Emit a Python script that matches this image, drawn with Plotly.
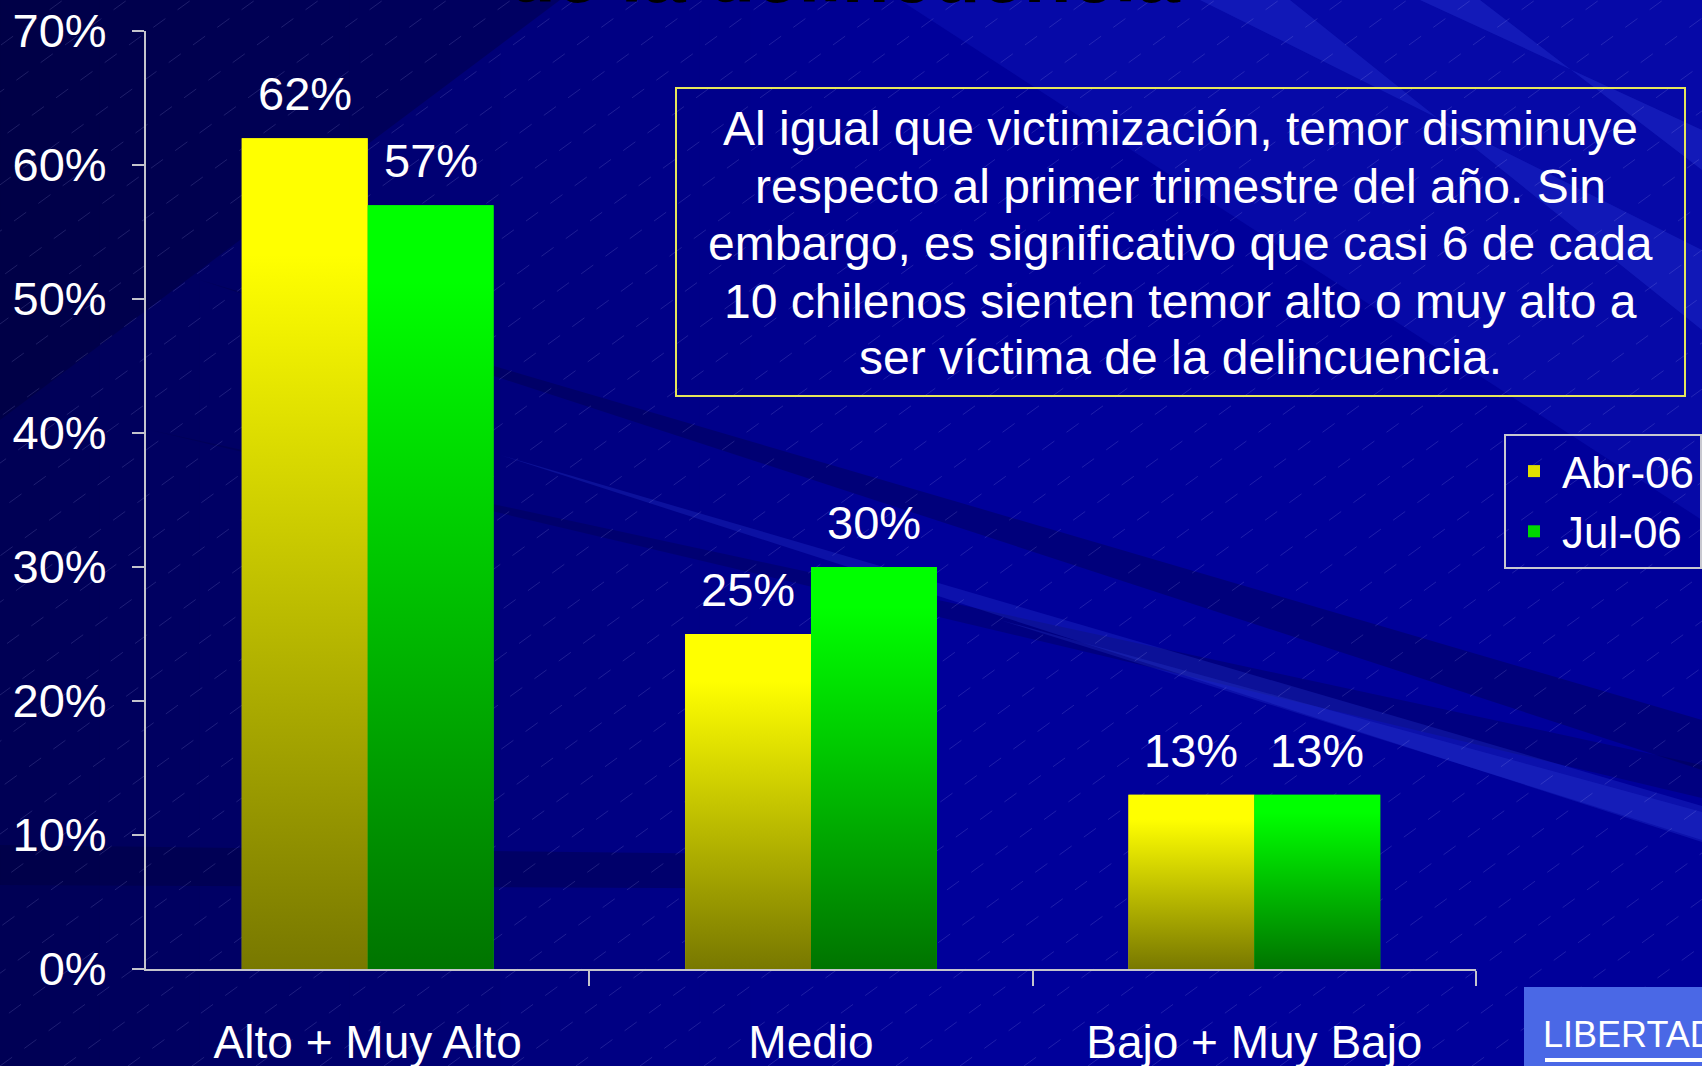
import plotly.graph_objects as go

# ---------------- data ----------------
categories = ["Alto + Muy Alto", "Medio", "Bajo + Muy Bajo"]
series_names = ["Abr-06", "Jul-06"]
abr06 = [62, 25, 13]
jul06 = [57, 30, 13]
y_tick_values = [0, 10, 20, 30, 40, 50, 60, 70]
y_tick_labels = ["0%", "10%", "20%", "30%", "40%", "50%", "60%", "70%"]
note_lines = [
    "Al igual que victimización, temor disminuye",
    "respecto al primer trimestre del año. Sin",
    "embargo, es significativo que casi 6 de cada",
    "10 chilenos sienten temor alto o muy alto a",
    "ser víctima de la delincuencia.",
]
title_fragment = "de la delincuencia"
logo_text = "LIBERTAD"

# ---------------- style ----------------
W, H = 1702, 1066
L, R, T, B = 146, 1476, 31, 969
FONT = "Liberation Sans, Arial, sans-serif"
BAR_W = 0.284
series_values = [abr06, jul06]
series_offsets = [-BAR_W / 2, BAR_W / 2]
series_solid = ["#e0e000", "#00d800"]
series_scales = [
    [[0, "#787800"], [0.86, "#ffff00"], [1, "#ffff00"]],
    [[0, "#007400"], [0.9, "#00ff00"], [1, "#00ff00"]],
]
AXIS_COLOR = "#c4c4cc"
x_positions = list(range(len(categories)))


def px(x):
    return (x - L) / (R - L)


def py(y):
    return (B - y) / (B - T)


fig = go.Figure()

# the bars themselves
for s, (name, vals) in enumerate(zip(series_names, series_values)):
    fig.add_trace(go.Bar(
        x=x_positions, y=vals, name=name,
        marker=dict(color=series_solid[s], line=dict(width=0)),
        hoverinfo="skip",
    ))

# vertical gradient fill laid over each bar (same geometry as the bars)
for s, vals in enumerate(series_values):
    for i, v in enumerate(vals):
        c = x_positions[i] + series_offsets[s]
        x0, x1 = c - BAR_W / 2, c + BAR_W / 2
        fig.add_trace(go.Scatter(
            x=[x0, x1, x1, x0, x0], y=[0, 0, v, v, 0],
            mode="lines", line=dict(width=0), fill="toself",
            fillgradient=dict(type="vertical", colorscale=series_scales[s]),
            showlegend=False, hoverinfo="skip",
        ))

annotations = []
# data labels
for s, vals in enumerate(series_values):
    for i, v in enumerate(vals):
        annotations.append(dict(
            x=x_positions[i] + series_offsets[s], y=v, xref="x", yref="y",
            text=f"{v}%", showarrow=False, yanchor="bottom", yshift=16,
            font=dict(family=FONT, size=47, color="white"),
        ))

# comment box text, one line each
note_y = [129, 186, 243, 301, 358]
for line, yy in zip(note_lines, note_y):
    annotations.append(dict(
        x=px(1180), y=py(yy), xref="paper", yref="paper",
        text=line, showarrow=False, xanchor="center", yanchor="middle",
        font=dict(family=FONT, size=48, color="white"),
    ))

# cut-off slide title (only its lower part shows)
annotations.append(dict(
    x=px(844), y=py(21), xref="paper", yref="paper",
    text=f"<b>{title_fragment}</b>", showarrow=False, xanchor="center", yanchor="bottom",
    font=dict(family=FONT, size=78, color="black"),
))

# logo text
annotations.append(dict(
    x=px(1541), y=py(1034), xref="paper", yref="paper",
    text=logo_text, showarrow=False, xanchor="left", yanchor="middle",
    font=dict(family=FONT, size=36, color="white"),
))

# ---------------- background decoration ----------------
shapes = []


def poly(points, color, layer="below"):
    d = "M" + " L".join(f"{px(x):.5f},{py(y):.5f}" for x, y in points) + " Z"
    return dict(type="path", path=d, xref="paper", yref="paper",
                fillcolor=color, line=dict(width=0), layer=layer)


# darker toward the left edge
n_strips = 18
for k in range(n_strips):
    a = 0.6 * (1 - k / n_strips)
    x0 = k * 50
    shapes.append(poly([(x0, 0), (x0 + 50, 0), (x0 + 50, H), (x0, H)], f"rgba(0,0,40,{a:.3f})"))
shapes.append(poly([(0, 0), (560, 0), (0, 420)], "rgba(0,0,40,0.30)"))
# lighter upper right
shapes.append(poly([(900, 0), (1702, 0), (1702, 520)], "rgba(20,34,200,0.28)"))
shapes.append(poly([(1200, 0), (1290, 0), (1702, 330), (1702, 250)], "rgba(50,70,230,0.25)"))
shapes.append(poly([(1420, 0), (1480, 0), (1702, 170), (1702, 130)], "rgba(60,80,235,0.25)"))
# rays (tapering toward the left)
shapes.append(poly([(200, 280), (1702, 770), (1702, 720)], "rgba(0,0,60,0.32)"))
shapes.append(poly([(150, 430), (1702, 798), (1702, 765)], "rgba(0,0,60,0.28)"))
shapes.append(poly([(500, 455), (1702, 842), (1702, 806)], "rgba(50,70,230,0.24)"))
shapes.append(poly([(1000, 620), (1702, 840), (1702, 812)], "rgba(60,80,235,0.20)"))
shapes.append(poly([(0, 845), (900, 856), (900, 889), (0, 885)], "rgba(0,0,50,0.30)"))

# faint diagonal hatch
segs = []
for k in range(-30, 30):
    x0 = k * 64
    segs.append(f"M{px(x0):.5f},{py(H):.5f} L{px(x0 + H * 1.38):.5f},{py(0):.5f}")
shapes.append(dict(type="path", path=" ".join(segs), xref="paper", yref="paper",
                   line=dict(color="rgba(190,190,255,0.16)", width=1, dash="longdash"),
                   layer="below"))

# comment box frame
shapes.append(dict(type="rect", xref="paper", yref="paper",
                   x0=px(676), x1=px(1685), y0=py(396), y1=py(88),
                   fillcolor="rgba(0,0,0,0)", line=dict(color="#e6e65a", width=2),
                   layer="above"))

# logo block
shapes.append(dict(type="rect", xref="paper", yref="paper",
                   x0=px(1524), x1=px(1712), y0=py(987), y1=py(1072),
                   fillcolor="#4a68e6", line=dict(width=0), layer="above"))
shapes.append(dict(type="rect", xref="paper", yref="paper",
                   x0=px(1545), x1=px(1712), y0=py(1058), y1=py(1062),
                   fillcolor="white", line=dict(width=0), layer="above"))

fig.update_layout(
    width=W, height=H,
    margin=dict(l=L, r=W - R, t=T, b=H - B, pad=0, autoexpand=False),
    paper_bgcolor="#00009a",
    plot_bgcolor="rgba(0,0,0,0)",
    font=dict(family=FONT, color="white"),
    barmode="group", bargap=1 - 2 * BAR_W, bargroupgap=0,
    showlegend=True,
    legend=dict(
        x=px(1504), y=py(434), xanchor="left", yanchor="top",
        bgcolor="rgba(0,0,0,0)", bordercolor="#c8c8d0", borderwidth=2,
        font=dict(family=FONT, size=44, color="white"),
        tracegroupgap=0, itemwidth=46,
    ),
    xaxis=dict(
        range=[-0.5, 2.5], tickmode="array", tickvals=x_positions, ticktext=categories,
        ticks="", showgrid=False, zeroline=False,
        showline=True, linecolor=AXIS_COLOR, linewidth=2,
        tickfont=dict(family=FONT, size=46, color="white"),
        ticklabelstandoff=32,
        minor=dict(tickmode="array", tickvals=[0.5, 1.5, 2.5], ticks="outside",
                   ticklen=15, tickwidth=2, tickcolor=AXIS_COLOR, showgrid=False),
    ),
    yaxis=dict(
        range=[0, 70], tickmode="array", tickvals=y_tick_values, ticktext=y_tick_labels,
        ticks="outside", ticklen=12, tickwidth=2, tickcolor=AXIS_COLOR,
        showgrid=False, zeroline=False,
        showline=True, linecolor=AXIS_COLOR, linewidth=2,
        tickfont=dict(family=FONT, size=47, color="white"),
        ticklabelstandoff=16,
    ),
    annotations=annotations,
    shapes=shapes,
)

fig.write_html(
    "out.html",
    config={"displayModeBar": False},
    post_script="document.body.style.margin='0';document.body.style.overflow='hidden';",
)
